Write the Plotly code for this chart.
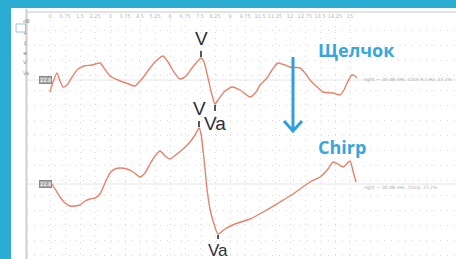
import plotly.graph_objects as go

# ---- data (time in ms, amplitude in µV) ----
click_t = [0.00, 0.15, 0.35, 0.50, 0.65, 0.85, 1.10, 1.40, 1.70, 2.10, 2.50, 2.70, 3.00, 3.40, 3.80,
           4.25, 4.50, 4.75, 5.00, 5.30, 5.65, 5.90, 6.20, 6.50, 6.80, 7.10, 7.35, 7.55, 7.70, 7.90,
           8.10, 8.25, 8.40, 8.70, 9.10, 9.50, 10.00, 10.30, 10.50, 10.85, 11.10, 11.40, 11.75,
           12.00, 12.50, 12.75, 13.00, 13.30, 13.65, 14.15, 14.50, 14.70, 14.85, 15.10, 15.25, 15.35]
click_a = [-0.24, -0.04, 0.14, -0.02, -0.14, -0.10, 0.06, 0.22, 0.28, 0.30, 0.34, 0.24, 0.08, 0.00, -0.06,
           -0.12, -0.02, 0.10, 0.24, 0.38, 0.48, 0.36, 0.16, 0.02, 0.08, 0.24, 0.36, 0.44, 0.36, 0.04,
           -0.30, -0.48, -0.40, -0.24, -0.14, -0.20, -0.34, -0.24, -0.10, 0.04, 0.20, 0.34, 0.30,
           0.26, 0.24, 0.14, 0.00, -0.12, -0.24, -0.26, -0.30, -0.20, -0.06, 0.10, 0.08, 0.04]

chirp_t = [0.00, 0.25, 0.50, 0.75, 1.00, 1.25, 1.50, 1.75, 2.00, 2.25, 2.50, 2.75, 3.00, 3.25, 3.50,
           3.85, 4.15, 4.50, 4.75, 5.00, 5.25, 5.50, 5.75, 6.00, 6.35, 6.65, 7.00, 7.25, 7.45, 7.55,
           7.70, 7.85, 8.00, 8.20, 8.40, 8.75, 9.25, 10.00, 10.75, 11.50, 12.00, 12.50, 13.00, 13.50,
           13.90, 14.15, 14.40, 14.65, 15.00, 15.15, 15.30]
chirp_a = [0.06, -0.10, -0.26, -0.38, -0.44, -0.44, -0.42, -0.34, -0.30, -0.28, -0.20, 0.02, 0.22, 0.30, 0.32,
           0.30, 0.24, 0.14, 0.22, 0.40, 0.56, 0.66, 0.56, 0.50, 0.60, 0.70, 0.84, 0.98, 1.12, 1.00,
           0.50, -0.10, -0.50, -0.80, -1.00, -0.90, -0.80, -0.70, -0.54, -0.36, -0.24, -0.10, 0.04, 0.14,
           0.30, 0.44, 0.40, 0.34, 0.46, 0.26, 0.04]

# latencies of labelled peaks (ms)
click_v_latency = 7.55
click_va_latency = 8.25
chirp_v_latency = 7.45
chirp_va_latency = 8.40

# vertical stacking of the two recordings (µV)
click_offset = 3.58
chirp_offset = 1.50

series_names = ["Щелчок", "Chirp"]
peak_labels = ["V", "Va"]
channel_value = "22.8"
click_info = "right — 30 dB nHL, Click 9.1 Hz, 27.2%"
chirp_info = "right — 30 dB nHL, Chirp, 27.2%"

# ---- figure ----
W, H = 456, 259
BLUE_BG = "#2BADD3"
BLUE_TXT = "#38A6DD"
WAVE = "#E8826C"
DARK = "#2E2E3C"


def px(x):
    return x / W


def py(y):
    return 1 - y / H


fig = go.Figure()

click_y = [a + click_offset for a in click_a]
chirp_y = [a + chirp_offset for a in chirp_a]

fig.add_trace(go.Scatter(x=click_t, y=click_y, mode="lines", name=series_names[0],
                         line=dict(color=WAVE, width=1.4, shape="spline", smoothing=0.6),
                         hoverinfo="skip"))
fig.add_trace(go.Scatter(x=chirp_t, y=chirp_y, mode="lines", name=series_names[1],
                         line=dict(color=WAVE, width=1.4, shape="spline", smoothing=0.6),
                         hoverinfo="skip"))

shapes = []
# white panel
shapes.append(dict(type="rect", xref="paper", yref="paper", x0=px(11), x1=1.01, y0=-0.01, y1=py(8),
                   fillcolor="white", line=dict(width=0), layer="below"))
# sidebar separator
shapes.append(dict(type="line", xref="paper", yref="paper", x0=px(26.5), x1=px(26.5), y0=-0.01, y1=py(9),
                   line=dict(color="#cfcfcf", width=2)))
# header line
shapes.append(dict(type="line", xref="paper", yref="paper", x0=px(27), x1=1, y0=py(12), y1=py(12),
                   line=dict(color="#c8c8c8", width=1)))
# baselines
for off in (click_offset, chirp_offset):
    shapes.append(dict(type="line", xref="paper", yref="y", x0=px(27), x1=1, y0=off, y1=off,
                       line=dict(color="#e6e6e6", width=1), layer="below"))
# blue arrow
shapes.append(dict(type="line", xref="paper", yref="paper", x0=px(293), x1=px(293), y0=py(57), y1=py(130),
                   line=dict(color="#2E9EE0", width=3)))
shapes.append(dict(type="path", xref="paper", yref="paper",
                   path=f"M {px(284)} {py(121)} L {px(293)} {py(131)} L {px(302)} {py(121)}",
                   line=dict(color="#2E9EE0", width=3)))
# sidebar highlighted box
shapes.append(dict(type="rect", xref="paper", yref="paper", x0=px(16), x1=px(25.5), y0=py(32), y1=py(24),
                   line=dict(color="#9fc3de", width=1), fillcolor="white"))

annotations = []


def peak_ann(t_list, y_list, latency, text, dy, size=19):
    idx = t_list.index(latency)
    return dict(x=t_list[idx], y=y_list[idx], xref="x", yref="y", text=text,
                showarrow=True, arrowhead=0, arrowwidth=1.6, arrowcolor=DARK,
                ax=0, ay=dy, standoff=1,
                xanchor="center", yanchor="bottom" if dy < 0 else "top",
                font=dict(family="Liberation Sans", size=size, color=DARK))


annotations.append(peak_ann(click_t, click_y, click_v_latency, peak_labels[0], -7))
annotations.append(peak_ann(click_t, click_y, click_va_latency, peak_labels[1], 7))
annotations.append(peak_ann(chirp_t, chirp_y, chirp_v_latency, peak_labels[0], -7))
annotations.append(peak_ann(chirp_t, chirp_y, chirp_va_latency, peak_labels[1], 5, size=17))

# series titles
annotations.append(dict(xref="paper", yref="paper", x=px(316), y=py(50), xanchor="left", yanchor="middle",
                        text=f"<b>{series_names[0]}</b>", showarrow=False,
                        font=dict(family="Open Sans", size=18, color=BLUE_TXT)))
annotations.append(dict(xref="paper", yref="paper", x=px(316), y=py(147), xanchor="left", yanchor="middle",
                        text=f"<b>{series_names[1]}</b>", showarrow=False,
                        font=dict(family="Open Sans", size=18, color=BLUE_TXT)))

# channel boxes
for off in (click_offset, chirp_offset):
    annotations.append(dict(xref="paper", yref="y", x=px(39), y=off, text=channel_value, showarrow=False,
                            font=dict(size=5, color="white", family="DejaVu Sans"),
                            bgcolor="#a8a8a8", bordercolor="#8a8a8a", borderwidth=1, borderpad=0))
# info texts
annotations.append(dict(xref="paper", yref="y", x=px(362), y=click_offset, xanchor="left", text=click_info,
                        showarrow=False, font=dict(size=4.5, color="#a9a9a9", family="DejaVu Sans")))
annotations.append(dict(xref="paper", yref="y", x=px(362), y=chirp_offset - 0.06, xanchor="left", text=chirp_info,
                        showarrow=False, font=dict(size=4.5, color="#a9a9a9", family="DejaVu Sans")))
# sidebar icons
for yy, txt in [(16, "dB"), (28, "+"), (38, "↕"), (48, "⊕"), (57, "V"), (68, "Va")]:
    annotations.append(dict(xref="paper", yref="paper", x=px(20.5), y=py(yy), text=txt, showarrow=False,
                            font=dict(size=5, color="#8a8a8a", family="DejaVu Sans")))

# axes: 20 px per ms, 50 px per µV
x_dom0 = 27 / W
t0 = -23 / 20
t1 = t0 + (W - 27) / 20
y_top = (H - 20) / 50

tick_vals = [round(0.75 * k, 2) for k in range(0, 21)]
tick_text = [f"{v:g}" for v in tick_vals]

fig.update_layout(
    width=W, height=H,
    margin=dict(l=0, r=0, t=0, b=0),
    paper_bgcolor=BLUE_BG,
    plot_bgcolor="white",
    showlegend=False,
    shapes=shapes,
    annotations=annotations,
    xaxis=dict(domain=[x_dom0, 1], range=[t0, t1], side="top", showline=False, zeroline=False,
               tickvals=tick_vals, ticktext=tick_text, ticks="",
               tickfont=dict(size=5, color="#b5b5b5", family="DejaVu Sans"),
               showgrid=True, gridcolor="#d9d9d9", gridwidth=1, griddash="1px,5px"),
    yaxis=dict(domain=[0, (H - 20) / H], range=[0, y_top], showticklabels=False, zeroline=False,
               showline=False, tick0=0.08, dtick=0.3,
               showgrid=True, gridcolor="#d9d9d9", gridwidth=1, griddash="1px,6px"),
)

fig.write_html("out.html", config={"displayModeBar": False},
               post_script="document.body.style.margin='0';document.body.style.overflow='hidden';")
